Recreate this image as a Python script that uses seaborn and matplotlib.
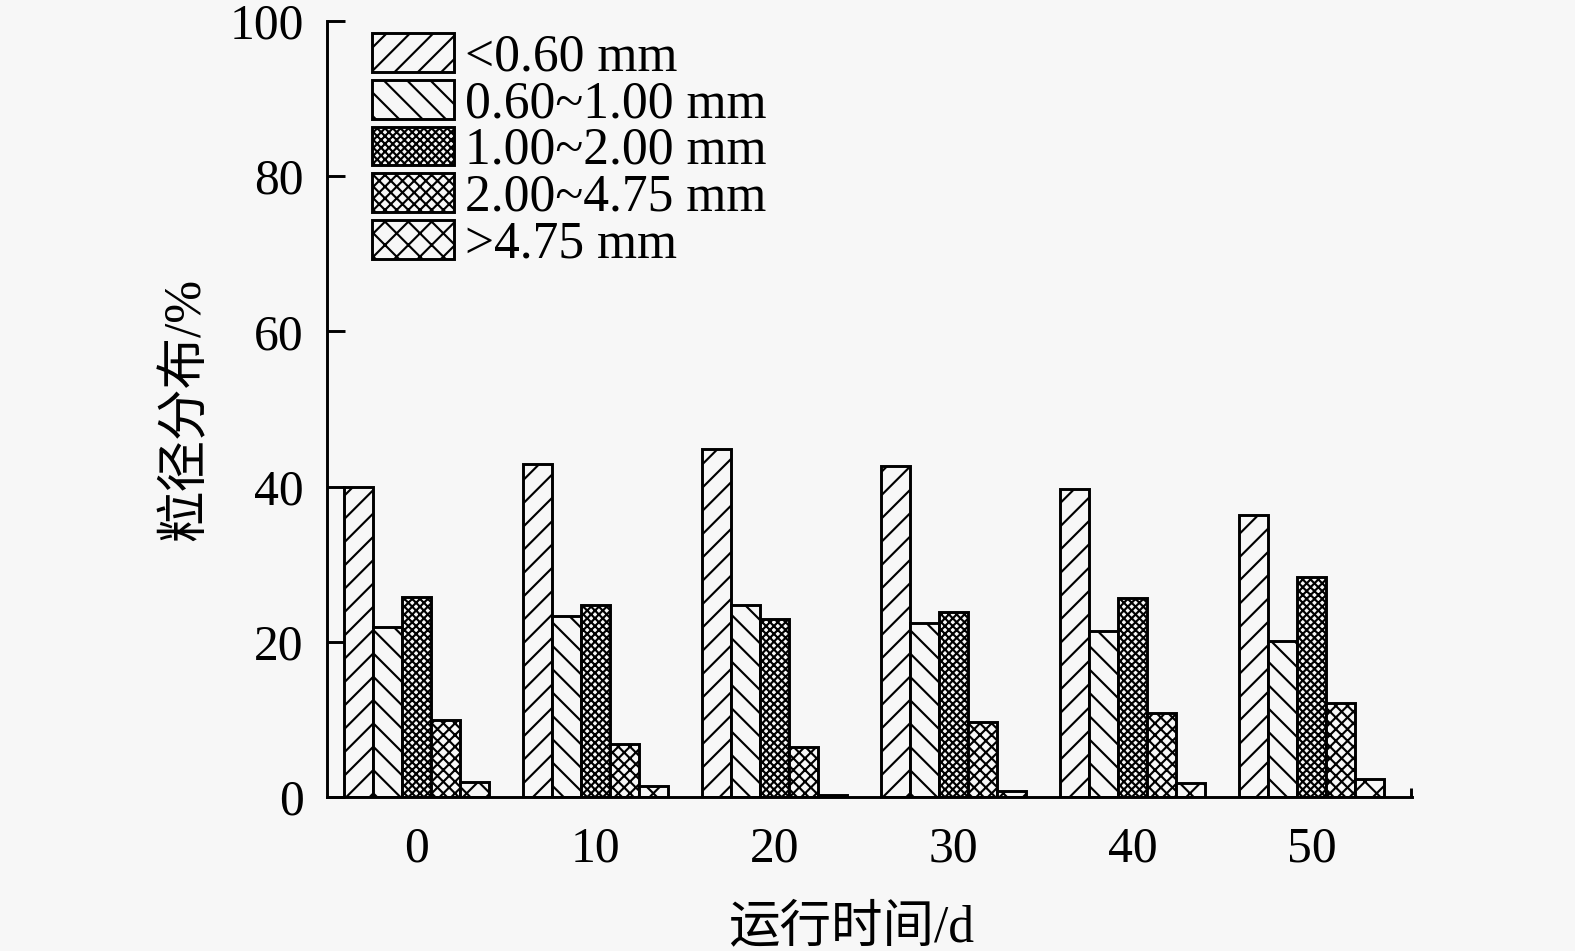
import matplotlib
matplotlib.use("Agg")
import matplotlib.pyplot as plt
import seaborn as sns
import pandas as pd

# ---- data ----
days = ["0", "10", "20", "30", "40", "50"]
size_labels = ["<0.60 mm", "0.60~1.00 mm", "1.00~2.00 mm", "2.00~4.75 mm", ">4.75 mm"]
lt_060 = [40.0, 42.9, 44.9, 42.6, 39.7, 36.3]
s060_100 = [21.9, 23.3, 24.8, 22.4, 21.4, 20.1]
s100_200 = [25.8, 24.8, 22.9, 23.9, 25.7, 28.3]
s200_475 = [9.9, 6.8, 6.4, 9.7, 10.8, 12.1]
gt_475 = [1.9, 1.4, 0.25, 0.8, 1.8, 2.3]
series = [lt_060, s060_100, s100_200, s200_475, gt_475]
hatches = ["//", "\\\\", "xxxxxx", "xxxx", "xx"]

rows = []
for lab, vals in zip(size_labels, series):
    for d, v in zip(days, vals):
        rows.append({"day": d, "size": lab, "value": v})
df = pd.DataFrame(rows)

sns.set_style("ticks")
bg = "#f7f7f7"
plt.rcParams["font.family"] = ["Liberation Serif", "Noto Sans CJK SC"]
plt.rcParams["hatch.linewidth"] = 1.1
plt.rcParams["hatch.color"] = "black"
plt.rcParams["axes.unicode_minus"] = False
for k in ["text.color", "axes.labelcolor", "xtick.color", "ytick.color", "axes.edgecolor"]:
    plt.rcParams[k] = "black"

dpi = 140
fig = plt.figure(figsize=(1575 / dpi, 951 / dpi), dpi=dpi, facecolor=bg)
ax = fig.add_axes([327 / 1575, 1 - 797 / 951, (1412 - 327) / 1575, (797 - 21) / 951])
ax.set_facecolor(bg)

sns.barplot(data=df, x="day", y="value", hue="size", hue_order=size_labels,
            order=days, width=0.81, ax=ax, legend=False,
            palette=[bg] * 5, edgecolor="black", linewidth=1.5, saturation=1)

for cont, h in zip(ax.containers, hatches):
    for p in cont.patches:
        p.set_hatch(h)
        p.set_facecolor(bg)
        p.set_edgecolor("black")

ax.set_xlim(-0.5, 5.56)
ax.set_ylim(0, 100)
ax.set_yticks([0, 20, 40, 60, 80, 100])
ax.set_xticks([5.555], minor=True)
for s in ["top", "right"]:
    ax.spines[s].set_visible(False)
for s in ["left", "bottom"]:
    ax.spines[s].set_linewidth(1.5)
    ax.spines[s].set_color("black")

ax.tick_params(axis="y", direction="in", length=9, width=1.5, labelsize=25.5, pad=12)
ax.tick_params(axis="x", which="major", length=0, labelsize=25.5, pad=15)
ax.tick_params(axis="x", which="minor", direction="in", length=4.5, width=1.5)

ax.set_xlabel("运行时间/d", fontsize=26.5)
ax.set_ylabel("粒径分布/%", fontsize=26.5)
ax.xaxis.set_label_coords(0.483, -0.138)
ax.yaxis.set_label_coords(-0.107, 0.5)

leg = ax.legend(handles=ax.containers, labels=size_labels, loc="upper left",
                bbox_to_anchor=(372 / 1575, 1 - 33 / 951), bbox_transform=fig.transFigure,
                frameon=False, fontsize=26.5, handlelength=1.6, handleheight=0.78,
                handletextpad=0.21, labelspacing=-0.03, borderpad=0, borderaxespad=0)

fig.savefig("out.png", dpi=dpi, facecolor=bg)
